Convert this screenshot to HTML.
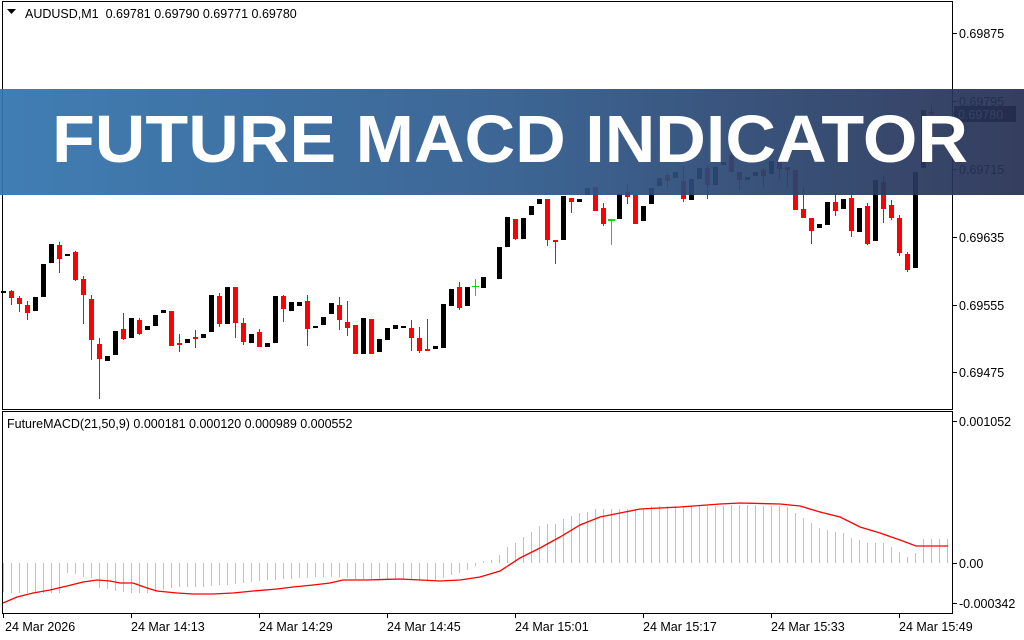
<!DOCTYPE html>
<html><head><meta charset="utf-8"><style>
html,body{margin:0;padding:0;background:#fff;}
svg{display:block;}
text{font-family:"Liberation Sans",sans-serif;}
</style></head><body>
<svg width="1024" height="640" viewBox="0 0 1024 640" xmlns="http://www.w3.org/2000/svg">
<rect width="1024" height="640" fill="#fff"/>
<defs>
<linearGradient id="bg" x1="0" x2="1" y1="0" y2="0">
<stop offset="0" stop-color="#3274ae"/>
<stop offset="0.5" stop-color="#2e5a8c"/>
<stop offset="1" stop-color="#262f52"/>
</linearGradient>
</defs>
<g fill="none" stroke="#000" stroke-width="1">
<rect x="2.5" y="1.5" width="950" height="408"/>
<rect x="2.5" y="411.5" width="950" height="202"/>
</g>
<g stroke="#000">
<path d="M953 33.5h4M953 101.5h4M953 169.5h4M953 237.5h4M953 305.5h4M953 372.5h4M953 421.5h4M953 563.5h4M953 603.5h4"/>
<path d="M3.5 614v4M131.5 614v4M259.5 614v4M387.5 614v4M515.5 614v4M643.5 614v4M771.5 614v4M899.5 614v4"/>
</g>
<g font-size="12.5" fill="#000">
<text x="959" y="38">0.69875</text>
<text x="959" y="106">0.69795</text>
<text x="959" y="174">0.69715</text>
<text x="959" y="242">0.69635</text>
<text x="959" y="310">0.69555</text>
<text x="959" y="377">0.69475</text>
<text x="959" y="426">0.001052</text>
<text x="959" y="568">0.00</text>
<text x="959" y="608">-0.000342</text>
<text x="5" y="631">24 Mar 2026</text>
<text x="131" y="631">24 Mar 14:13</text>
<text x="259" y="631">24 Mar 14:29</text>
<text x="387" y="631">24 Mar 14:45</text>
<text x="515" y="631">24 Mar 15:01</text>
<text x="643" y="631">24 Mar 15:17</text>
<text x="771" y="631">24 Mar 15:33</text>
<text x="899" y="631">24 Mar 15:49</text>
<text x="25" y="18" xml:space="preserve">AUDUSD,M1  0.69781 0.69790 0.69771 0.69780</text>
<text x="7" y="428">FutureMACD(21,50,9) 0.000181 0.000120 0.000989 0.000552</text>
</g>
<path d="M7 9h9l-4.5 5z" fill="#000"/>
<g fill="#ff0000">
<rect x="11" y="290" width="1" height="15"/><rect x="9" y="291" width="5" height="7"/>
<rect x="19" y="296" width="1" height="16"/><rect x="17" y="298" width="5" height="6"/>
<rect x="27" y="301" width="1" height="19"/><rect x="25" y="305" width="5" height="8"/>
<rect x="59" y="242" width="1" height="31"/><rect x="57" y="245" width="5" height="14"/>
<rect x="75" y="251" width="1" height="30"/><rect x="73" y="252" width="5" height="28"/>
<rect x="83" y="276" width="1" height="48"/><rect x="81" y="279" width="5" height="16"/>
<rect x="91" y="295" width="1" height="65"/><rect x="89" y="299" width="5" height="41"/>
<rect x="99" y="338" width="1" height="61"/><rect x="97" y="344" width="5" height="15"/>
<rect x="123" y="313" width="1" height="27"/><rect x="121" y="329" width="5" height="10"/>
<rect x="139" y="318" width="1" height="17"/><rect x="137" y="320" width="5" height="14"/>
<rect x="169" y="311" width="5" height="35"/>
<rect x="179" y="334" width="1" height="18"/><rect x="177" y="343" width="5" height="2"/>
<rect x="195" y="330" width="1" height="18"/><rect x="193" y="337" width="5" height="2"/>
<rect x="219" y="293" width="1" height="34"/><rect x="217" y="296" width="5" height="28"/>
<rect x="235" y="287" width="1" height="51"/><rect x="233" y="287" width="5" height="36"/>
<rect x="243" y="318" width="1" height="27"/><rect x="241" y="323" width="5" height="19"/>
<rect x="259" y="329" width="1" height="18"/><rect x="257" y="332" width="5" height="15"/>
<rect x="283" y="295" width="1" height="27"/><rect x="281" y="296" width="5" height="13"/>
<rect x="307" y="295" width="1" height="51"/><rect x="305" y="301" width="5" height="28"/>
<rect x="339" y="297" width="1" height="33"/><rect x="337" y="305" width="5" height="15"/>
<rect x="347" y="301" width="1" height="35"/><rect x="345" y="322" width="5" height="6"/>
<rect x="353" y="325" width="5" height="29"/>
<rect x="369" y="319" width="5" height="35"/>
<rect x="411" y="320" width="1" height="31"/><rect x="409" y="328" width="5" height="10"/>
<rect x="419" y="327" width="1" height="26"/><rect x="417" y="338" width="5" height="13"/>
<rect x="427" y="319" width="1" height="32"/><rect x="425" y="349" width="5" height="2"/>
<rect x="459" y="282" width="1" height="28"/><rect x="457" y="287" width="5" height="21"/>
<rect x="515" y="219" width="1" height="21"/><rect x="513" y="219" width="5" height="20"/>
<rect x="547" y="199" width="1" height="47"/><rect x="545" y="199" width="5" height="41"/>
<rect x="555" y="240" width="1" height="24"/><rect x="553" y="240" width="5" height="2"/>
<rect x="571" y="198" width="1" height="15"/><rect x="569" y="198" width="5" height="4"/>
<rect x="593" y="187" width="5" height="24"/>
<rect x="603" y="203" width="1" height="23"/><rect x="601" y="208" width="5" height="16"/>
<rect x="627" y="184" width="1" height="20"/><rect x="625" y="192" width="5" height="5"/>
<rect x="633" y="195" width="5" height="29"/>
<rect x="667" y="172" width="1" height="16"/><rect x="665" y="175" width="5" height="6"/>
<rect x="683" y="166" width="1" height="36"/><rect x="681" y="181" width="5" height="18"/>
<rect x="707" y="165" width="1" height="34"/><rect x="705" y="168" width="5" height="17"/>
<rect x="731" y="152" width="1" height="21"/><rect x="729" y="155" width="5" height="17"/>
<rect x="739" y="172" width="1" height="18"/><rect x="737" y="172" width="5" height="8"/>
<rect x="763" y="168" width="1" height="19"/><rect x="761" y="170" width="5" height="6"/>
<rect x="779" y="157" width="1" height="22"/><rect x="777" y="160" width="5" height="9"/>
<rect x="787" y="167" width="1" height="20"/><rect x="785" y="167" width="5" height="3"/>
<rect x="793" y="170" width="5" height="40"/>
<rect x="803" y="187" width="1" height="31"/><rect x="801" y="209" width="5" height="9"/>
<rect x="811" y="218" width="1" height="26"/><rect x="809" y="218" width="5" height="13"/>
<rect x="835" y="193" width="1" height="23"/><rect x="833" y="202" width="5" height="9"/>
<rect x="851" y="194" width="1" height="43"/><rect x="849" y="198" width="5" height="33"/>
<rect x="867" y="203" width="1" height="42"/><rect x="865" y="206" width="5" height="38"/>
<rect x="883" y="176" width="1" height="47"/><rect x="881" y="182" width="5" height="27"/>
<rect x="891" y="200" width="1" height="20"/><rect x="889" y="205" width="5" height="13"/>
<rect x="899" y="215" width="1" height="41"/><rect x="897" y="218" width="5" height="35"/>
<rect x="907" y="252" width="1" height="20"/><rect x="905" y="254" width="5" height="16"/>
<rect x="931" y="105" width="1" height="10"/><rect x="929" y="112" width="5" height="2"/>
</g>
<g fill="#000">
<rect x="1" y="291" width="5" height="2"/>
<rect x="33" y="297" width="5" height="14"/>
<rect x="41" y="264" width="5" height="33"/>
<rect x="49" y="244" width="5" height="19"/>
<rect x="65" y="254" width="5" height="2"/>
<rect x="105" y="356" width="5" height="5"/>
<rect x="113" y="331" width="5" height="24"/>
<rect x="129" y="318" width="5" height="20"/>
<rect x="145" y="326" width="5" height="4"/>
<rect x="153" y="315" width="5" height="11"/>
<rect x="161" y="310" width="5" height="3"/>
<rect x="185" y="339" width="5" height="4"/>
<rect x="201" y="334" width="5" height="4"/>
<rect x="209" y="295" width="5" height="37"/>
<rect x="225" y="287" width="5" height="37"/>
<rect x="249" y="334" width="5" height="9"/>
<rect x="265" y="343" width="5" height="4"/>
<rect x="273" y="296" width="5" height="47"/>
<rect x="289" y="302" width="5" height="9"/>
<rect x="297" y="302" width="5" height="4"/>
<rect x="313" y="326" width="5" height="2"/>
<rect x="321" y="317" width="5" height="8"/>
<rect x="329" y="303" width="5" height="11"/>
<rect x="361" y="318" width="5" height="36"/>
<rect x="377" y="339" width="5" height="13"/>
<rect x="385" y="328" width="5" height="12"/>
<rect x="393" y="325" width="5" height="4"/>
<rect x="401" y="326" width="5" height="2"/>
<rect x="433" y="346" width="5" height="3"/>
<rect x="441" y="304" width="5" height="44"/>
<rect x="449" y="289" width="5" height="17"/>
<rect x="465" y="287" width="5" height="19"/>
<rect x="481" y="277" width="5" height="11"/>
<rect x="497" y="247" width="5" height="32"/>
<rect x="505" y="217" width="5" height="30"/>
<rect x="521" y="218" width="5" height="21"/>
<rect x="529" y="206" width="5" height="9"/>
<rect x="537" y="199" width="5" height="5"/>
<rect x="561" y="196" width="5" height="44"/>
<rect x="577" y="199" width="5" height="3"/>
<rect x="585" y="188" width="5" height="7"/>
<rect x="617" y="194" width="5" height="25"/>
<rect x="641" y="206" width="5" height="15"/>
<rect x="649" y="188" width="5" height="16"/>
<rect x="657" y="178" width="5" height="8"/>
<rect x="673" y="172" width="5" height="6"/>
<rect x="689" y="179" width="5" height="21"/>
<rect x="697" y="168" width="5" height="11"/>
<rect x="713" y="167" width="5" height="18"/>
<rect x="721" y="162" width="5" height="3"/>
<rect x="745" y="177" width="5" height="3"/>
<rect x="753" y="172" width="5" height="4"/>
<rect x="769" y="161" width="5" height="13"/>
<rect x="817" y="224" width="5" height="4"/>
<rect x="825" y="202" width="5" height="23"/>
<rect x="841" y="199" width="5" height="10"/>
<rect x="857" y="208" width="5" height="24"/>
<rect x="873" y="180" width="5" height="61"/>
<rect x="913" y="172" width="5" height="96"/>
<rect x="921" y="110" width="5" height="58"/>
</g>
<g fill="#00e000">
<rect x="475" y="279" width="1" height="17"/><rect x="472" y="286" width="7" height="1"/>
<rect x="611" y="219" width="1" height="26"/><rect x="608" y="219" width="7" height="2"/>
</g>
<rect x="954" y="106" width="62" height="16" fill="#000"/>
<text x="958" y="119" font-size="12.5" fill="#fff">0.69780</text>
<path stroke="#c0c0c0" stroke-width="1" fill="none" d="
M3.5 563V592M11.5 563V593M19.5 563V593M27.5 563V593M35.5 563V593M43.5 563V593M51.5 563V593M59.5 563V593
M67.5 563V573M75.5 563V574M83.5 563V577M91.5 563V578M99.5 563V588M107.5 563V589M115.5 563V591M123.5 563V592
M131.5 563V593M139.5 563V593M147.5 563V593M155.5 563V592M163.5 563V590M171.5 563V588M179.5 563V587M187.5 563V587
M195.5 563V587M203.5 563V587M211.5 563V586M219.5 563V585M227.5 563V585M235.5 563V584M243.5 563V583M251.5 563V582
M259.5 563V581M267.5 563V580M275.5 563V580M283.5 563V579M291.5 563V579M299.5 563V578M307.5 563V578M315.5 563V577
M323.5 563V577M331.5 563V577M339.5 563V577M347.5 563V578M355.5 563V579M363.5 563V579M371.5 563V580M379.5 563V580
M387.5 563V580M395.5 563V580M403.5 563V580M411.5 563V580M419.5 563V580M427.5 563V580M435.5 563V580M443.5 563V578
M451.5 563V575M459.5 563V573M467.5 563V570M475.5 563V566M483.5 563V561M491.5 563V560M499.5 563V555M507.5 563V547
M515.5 563V543M523.5 563V537M531.5 563V532M539.5 563V526M547.5 563V524M555.5 563V524M563.5 563V519M571.5 563V516
M579.5 563V513M587.5 563V512M595.5 563V509M603.5 563V509M611.5 563V509M619.5 563V509M627.5 563V509M635.5 563V509
M643.5 563V509M651.5 563V506M659.5 563V506M667.5 563V506M675.5 563V506M683.5 563V506M691.5 563V506M699.5 563V506
M707.5 563V506M715.5 563V506M723.5 563V506M731.5 563V505M739.5 563V505M747.5 563V505M755.5 563V505M763.5 563V506
M771.5 563V506M779.5 563V506M787.5 563V507M795.5 563V513M803.5 563V518M811.5 563V523M819.5 563V528M827.5 563V530
M835.5 563V532M843.5 563V533M851.5 563V538M859.5 563V540M867.5 563V543M875.5 563V543M883.5 563V543M891.5 563V547
M899.5 563V552M907.5 563V557M915.5 563V553M923.5 563V539M931.5 563V539M939.5 563V539M947.5 563V539"/>
<polyline fill="none" stroke="#ff0000" stroke-width="1.3" points="3,603 17,597 33,593 50,590 67,586 83,582 97,580 110,581 120,583 133,583 147,588 157,591 177,593 193,594 213,594 233,593 253,591 277,589 293,587 313,585 330,583 343,580 367,580 400,579 440,581 460,580 480,577 500,571 520,558 540,548 560,537 580,525 600,517 620,513 640,509 680,507 720,504 740,503 780,504 800,506 820,512 840,517 860,527 880,533 900,540 916,546 948,546"/>
<rect x="0" y="89" width="1024" height="106" fill="url(#bg)" opacity="0.93"/>
<text x="52" y="162" font-size="67" font-weight="bold" fill="#fff" textLength="916" lengthAdjust="spacingAndGlyphs" style="font-family:'Liberation Sans',sans-serif;">FUTURE MACD INDICATOR</text>
</svg>
</body></html>
